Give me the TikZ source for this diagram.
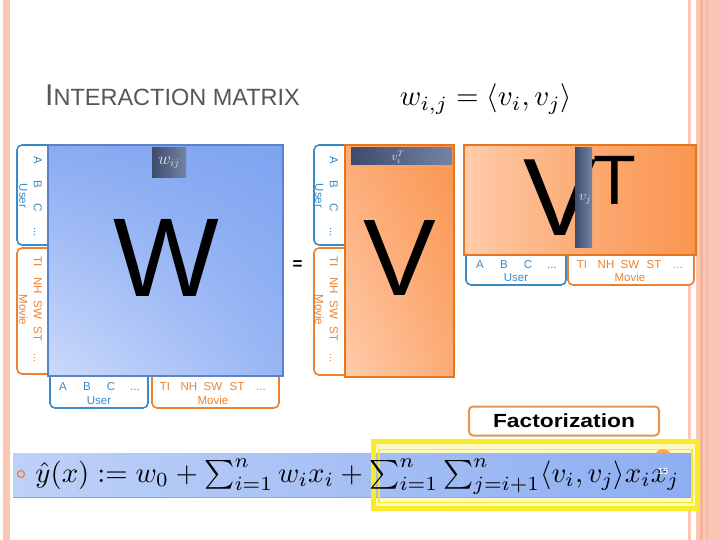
\documentclass[tikz,border=0pt]{standalone}
\usepackage{fontspec}
\setmainfont{Liberation Sans}
\usepackage{amsmath}
\usepackage{graphicx}
\usetikzlibrary{shadings}

\definecolor{slideedge}{HTML}{F9C7B3}
\definecolor{slideline}{HTML}{F3B39A}
\definecolor{tabblue}{HTML}{3A8AC6}
\definecolor{taborange}{HTML}{EA8232}
\definecolor{wlight}{HTML}{CCDAFB}
\definecolor{wmid}{HTML}{98B6F5}
\definecolor{wdark}{HTML}{7EA3F0}
\definecolor{wborder}{HTML}{5B84C8}
\definecolor{vlight}{HTML}{FFCCAA}
\definecolor{vmid}{HTML}{FCAB76}
\definecolor{vdark}{HTML}{FA9550}
\definecolor{vborder}{HTML}{E8741E}
\definecolor{barlight}{HTML}{BED1F8}
\definecolor{bardark}{HTML}{8DAEF2}
\definecolor{hlyellow}{HTML}{F7EB2A}
\definecolor{hlpale}{HTML}{FFFAC4}
\definecolor{titlegray}{HTML}{53575B}
\definecolor{celldark}{HTML}{3E4C6C}
\definecolor{celllight}{HTML}{7484A4}
\definecolor{factline}{HTML}{E39456}

\newcommand{\userrow}{\makebox[24pt]{A}\makebox[24pt]{B}\makebox[24pt]{C}\makebox[24pt]{...}}
\newcommand{\movierow}{\makebox[24pt]{TI}\makebox[24pt]{NH}\makebox[24pt]{SW}\makebox[24pt]{ST}\makebox[24pt]{...}}

\begin{document}
\begin{tikzpicture}[x=1pt,y=-1pt,
    tab/.style={line width=1.6pt, rounded corners=5pt, fill=white},
    tabtext/.style={inner sep=0pt, align=center, font=\fontsize{11.5}{14.5}\selectfont},
    bigletter/.style={inner sep=0pt, font=\fontsize{112}{112}\selectfont},
    cell/.style={left color=celldark, right color=celllight},
    celltext/.style={inner sep=0pt, text=white!90!black, font=\fontsize{16}{16}\selectfont}]
    \useasboundingbox (0,0) rectangle (720,540);
    \fill[white] (0,0) rectangle (720,540);

    % slide edges
    \fill[slideedge] (3,0) rectangle (10,540);
    \fill[slideedge] (688,0) rectangle (691,540);
    \fill[slideedge] (696,0) rectangle (720,540);
    \fill[slideline] (700,0) rectangle (702.5,540);
    \fill[slideline!60!slideedge] (706,0) rectangle (708,540);

    % title
    \node[anchor=base west, inner sep=0pt, text=titlegray] (title) at (45,106)
        {{\fontsize{30}{30}\selectfont I}{\fontsize{23.5}{24}\selectfont NTERACTION MATRIX}};
    \node[inner sep=0pt] (wdef) at (486,99)
        {\resizebox{172pt}{!}{$w_{i,j} = \langle v_i, v_j \rangle$}};

    % tabs of W
    \draw[tab, draw=tabblue] (54,145) -- (17,145) -- (17,245) -- (54,245);
    \draw[tab, draw=taborange] (54,248) -- (17,248) -- (17,374) -- (54,374);
    \draw[tab, draw=tabblue] (50,368) -- (50,408) -- (148,408) -- (148,368);
    \draw[tab, draw=taborange] (152,368) -- (152,408) -- (279,408) -- (279,368);
    \node[tabtext, text=tabblue, rotate=-90] (wuserl) at (30.5,196) {\userrow\\User};
    \node[tabtext, text=taborange, rotate=-90] (wmoviel) at (30.5,310) {\movierow\\Movie};
    \node[tabtext, text=tabblue] (wuserb) at (99,393.5) {\userrow\\User};
    \node[tabtext, text=taborange] (wmovieb) at (213,393.5) {\movierow\\Movie};

    % W
    \shade[lower left=wlight, upper right=wdark, upper left=wdark!85!wlight, lower right=wmid]
        (48,145) rectangle (283,376);
    \draw[wborder, line width=1.2pt] (48,145) rectangle (283,376);
    \shade[cell] (152,148) rectangle (186,178);
    \node[celltext] (wij) at (169,163) {$w_{ij}$};
    \node[bigletter] (wname) at (166,258) {W};

    \node[inner sep=0pt, font=\bfseries\fontsize{17}{17}\selectfont] (eq) at (297.5,265) {=};

    % tabs of V
    \draw[tab, draw=tabblue] (350,145) -- (314,145) -- (314,245) -- (350,245);
    \draw[tab, draw=taborange] (350,248) -- (314,248) -- (314,375) -- (350,375);
    \node[tabtext, text=tabblue, rotate=-90] (vuserl) at (326.5,196) {\userrow\\User};
    \node[tabtext, text=taborange, rotate=-90] (vmoviel) at (326.5,310) {\movierow\\Movie};

    % V
    \shade[lower left=vlight, upper right=vdark, upper left=vmid, lower right=vmid]
        (345,145) rectangle (454,377);
    \draw[vborder, line width=1.2pt] (345,145) rectangle (454,377);
    \shade[cell] (351,148) rectangle (452,165);
    \node[celltext, font=\fontsize{12}{12}\selectfont] (vit) at (398,157) {$v_i^T$};
    \node[bigletter, font=\fontsize{109}{109}\selectfont] (vname) at (399.5,258) {V};

    % tabs of V^T
    \draw[tab, draw=tabblue] (466,250) -- (466,285) -- (566,285) -- (566,250);
    \draw[tab, draw=taborange] (568,250) -- (568,285) -- (694,285) -- (694,250);
    \node[tabtext, text=tabblue, font=\fontsize{11.5}{12.5}\selectfont] (vtuser) at (516,271) {\userrow\\User};
    \node[tabtext, text=taborange, font=\fontsize{11.5}{12.5}\selectfont] (vtmovie) at (630,271) {\movierow\\Movie};

    % V^T
    \shade[left color=vlight, right color=vdark, middle color=vmid]
        (464,145) rectangle (696,255);
    \draw[vborder, line width=1.2pt] (464,145) rectangle (696,255);
    \node[bigletter, font=\fontsize{110}{110}\selectfont] (vtname) at (560.5,197.5) {V};
    \node[bigletter, font=\fontsize{70}{70}\selectfont] (vtsup) at (614.5,180) {T};
    \shade[cell] (575,148) rectangle (592,247);
    \node[celltext, font=\fontsize{14}{14}\selectfont] (vj) at (585,199) {$v_j$};

    % factorization label
    \node[draw=factline, line width=2pt, rounded corners=4pt, fill=white,
          minimum width=190pt, minimum height=29pt, inner sep=0pt,
          font=\bfseries\fontsize{19}{19}\selectfont] (fact) at (564,421)
        {\scalebox{1.2}[1]{Factorization}};

    % model equation
    \fill[hlpale] (371,439) rectangle (700,511);
    \shade[left color=barlight, right color=bardark] (13,453) rectangle (691,497);
    \draw[black!35, line width=1.5pt] (13,497.5) -- (691,497.5);
    \draw[hlyellow, line width=5pt] (373.5,441.5) rectangle (697.5,508.5);
    \draw[hlyellow, line width=1.5pt] (379,449.5) rectangle (692,502.5);
    \fill[orange!70!white] (656,453) .. controls (657,448) and (669,448) .. (670,453) -- cycle;
    \draw[taborange, line width=1.2pt] (21,474) circle (3.5);
    \node[inner sep=0pt] (model) at (357.5,477)
        {\resizebox{644pt}{!}{$\hat{y}(x) \mathrel{:=} w_0 + \sum_{i=1}^{n} w_i x_i
         + \sum_{i=1}^{n} \sum_{j=i+1}^{n} \langle v_i, v_j \rangle x_i x_j$}};
    \node[inner sep=0pt, text=white, font=\bfseries\fontsize{9}{9}\selectfont] (pageno) at (663,471) {15};
\end{tikzpicture}
\end{document}
